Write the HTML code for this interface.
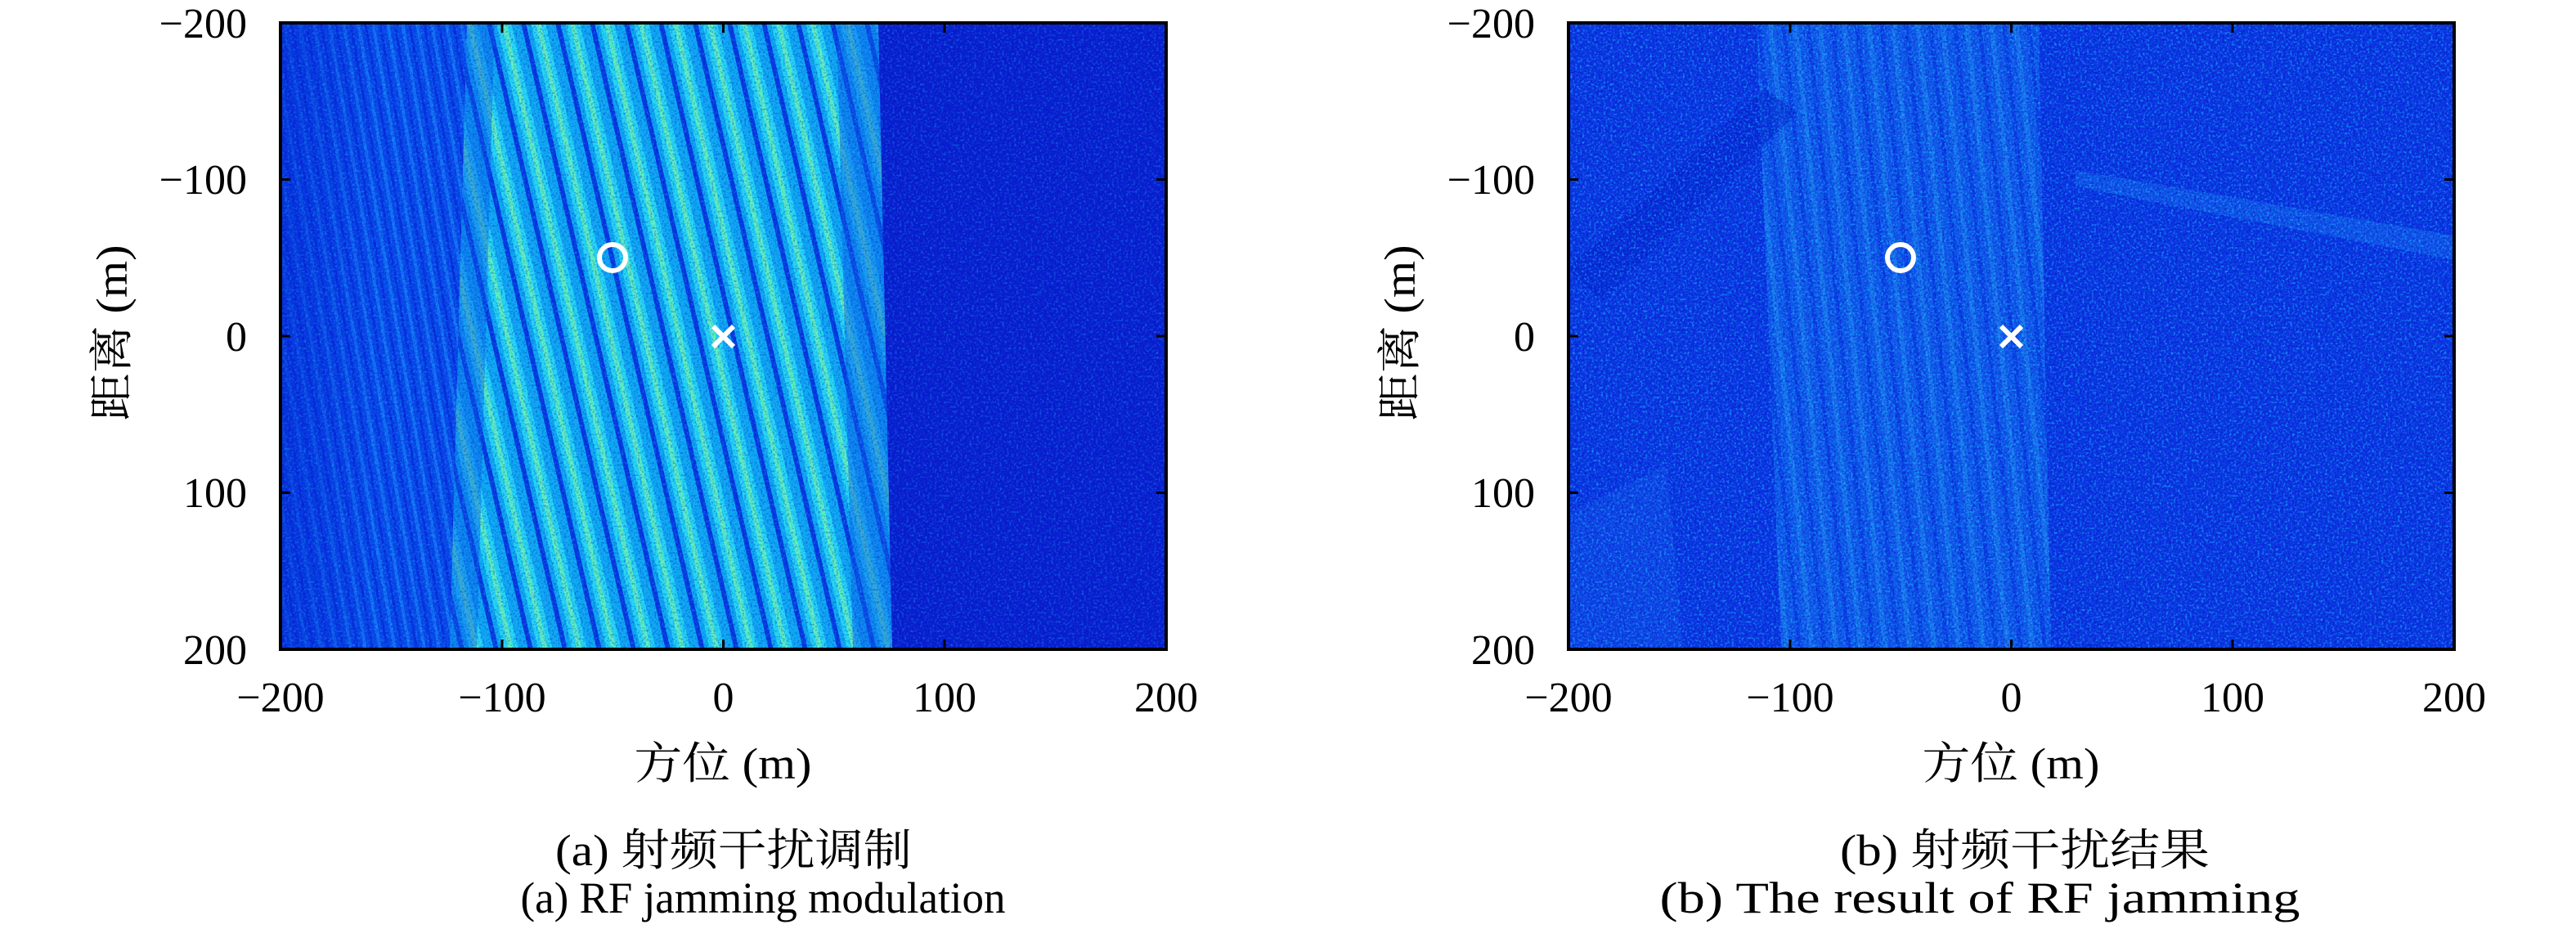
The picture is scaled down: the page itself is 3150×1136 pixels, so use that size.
<!DOCTYPE html>
<html><head><meta charset="utf-8"><style>
html,body{margin:0;padding:0;background:#fff;}
svg{display:block;}
text{font-family:"Liberation Serif","Noto Serif CJK SC",serif;fill:#000;}
</style></head><body>
<svg width="3150" height="1136" viewBox="0 0 3150 1136" xmlns="http://www.w3.org/2000/svg">
<defs>
  <pattern id="stripes" patternUnits="userSpaceOnUse" width="42" height="20" patternTransform="skewX(13)">
    <rect x="0" y="0" width="42" height="20" fill="#10a8f4"/>
    <rect x="0" y="0" width="6" height="20" fill="#0838e0"/>
    <rect x="12" y="0" width="18" height="20" fill="#28d8f4"/>
    <rect x="18" y="0" width="6" height="20" fill="#60f0c0"/>
  </pattern>
  <pattern id="faint" patternUnits="userSpaceOnUse" width="18" height="20" patternTransform="skewX(10)">
    <rect x="0" y="0" width="18" height="20" fill="#0a48ec"/>
    <rect x="3" y="0" width="4" height="20" fill="#1470f4"/>
    <rect x="12" y="0" width="3" height="20" fill="#0630dc"/>
  </pattern>
  <pattern id="rstr" patternUnits="userSpaceOnUse" width="30" height="20" patternTransform="skewX(6)">
    <rect x="0" y="0" width="30" height="20" fill="#1468f0"/>
    <rect x="4" y="0" width="6" height="20" fill="#2090f4"/>
    <rect x="20" y="0" width="5" height="20" fill="#0c44e8"/>
  </pattern>
  <linearGradient id="edgeL" x1="0" x2="1" y1="0" y2="0">
    <stop offset="0" stop-color="#0628d8" stop-opacity="0.7"/>
    <stop offset="1" stop-color="#0628d8" stop-opacity="0"/>
  </linearGradient>
  <filter id="noise" x="0" y="0" width="100%" height="100%" color-interpolation-filters="sRGB">
    <feTurbulence type="fractalNoise" baseFrequency="0.35" numOctaves="2" seed="4"/>
    <feColorMatrix type="matrix" values="0 0 0 0 0.1  0 0 0 0 0.8  0 0 0 0 1  3.2 0 0 0 -1.55"/>
  </filter>
  <filter id="noiseD" x="0" y="0" width="100%" height="100%" color-interpolation-filters="sRGB">
    <feTurbulence type="fractalNoise" baseFrequency="0.4" numOctaves="2" seed="9"/>
    <feColorMatrix type="matrix" values="0 0 0 0 0  0 0 0 0 0.05  0 0 0 0 0.7  3 0 0 0 -1.4"/>
  </filter>
  <clipPath id="cpL"><rect x="0" y="0" width="1083" height="766"/></clipPath>
</defs>

<!-- LEFT PLOT -->
<g transform="translate(343,28)" clip-path="url(#cpL)">
  <rect x="0" y="0" width="1083" height="766" fill="#0a1ed0"/>
  <polygon points="0,0 260,0 240,766 0,766" fill="url(#faint)"/>
  <polygon points="0,0 120,0 100,766 0,766" fill="url(#edgeL)"/>
  <polygon points="228,0 731,0 748,766 207,766" fill="url(#stripes)"/>
  <polygon points="680,0 731,0 748,766 700,766" fill="#0c60ec" opacity="0.5"/>
  <polygon points="228,0 262,0 240,766 207,766" fill="#0c58ec" opacity="0.45"/>
  <rect x="0" y="0" width="1083" height="766" filter="url(#noise)" opacity="0.35"/>
  <rect x="0" y="0" width="1083" height="766" filter="url(#noiseD)" opacity="0.4"/>
  <circle cx="406" cy="287" r="16" fill="none" stroke="#fff" stroke-width="6"/>
  <path d="M529,371 L554,396 M554,371 L529,396" stroke="#fff" stroke-width="6"/>
</g>
<rect x="343" y="28" width="1083" height="766" fill="none" stroke="#000" stroke-width="4"/>
<g stroke="#000" stroke-width="3">
  <line x1="614" y1="794" x2="614" y2="782"/><line x1="884.5" y1="794" x2="884.5" y2="782"/><line x1="1155" y1="794" x2="1155" y2="782"/>
  <line x1="614" y1="28" x2="614" y2="40"/><line x1="884.5" y1="28" x2="884.5" y2="40"/><line x1="1155" y1="28" x2="1155" y2="40"/>
  <line x1="343" y1="219.5" x2="355" y2="219.5"/><line x1="343" y1="411" x2="355" y2="411"/><line x1="343" y1="602.5" x2="355" y2="602.5"/>
  <line x1="1426" y1="219.5" x2="1414" y2="219.5"/><line x1="1426" y1="411" x2="1414" y2="411"/><line x1="1426" y1="602.5" x2="1414" y2="602.5"/>
</g>
<g font-size="52" text-anchor="end">
  <text x="302" y="46">−200</text><text x="302" y="237">−100</text><text x="302" y="429">0</text><text x="302" y="620">100</text><text x="302" y="812">200</text>
</g>
<g font-size="54" text-anchor="middle">
  <text x="343" y="870" font-size="52">−200</text><text x="614" y="870" font-size="52">−100</text><text x="884.5" y="870" font-size="52">0</text><text x="1155" y="870" font-size="52">100</text><text x="1426" y="870" font-size="52">200</text>
  <text x="884" y="952" textLength="217" lengthAdjust="spacingAndGlyphs">方位 (m)</text>
  <text x="897" y="1058" textLength="436" lengthAdjust="spacingAndGlyphs">(a) 射频干扰调制</text>
  <text x="933" y="1116" textLength="593" lengthAdjust="spacingAndGlyphs">(a) RF jamming modulation</text>
</g>
<text font-size="54" text-anchor="middle" transform="translate(155,407) rotate(-90)" textLength="215" lengthAdjust="spacingAndGlyphs">距离 (m)</text>

<!-- RIGHT PLOT -->
<g transform="translate(1918,28)" clip-path="url(#cpL)">
  <rect x="0" y="0" width="1083" height="766" fill="#0c34e4"/>
  <polygon points="230,0 575,0 590,766 260,766" fill="url(#rstr)" opacity="0.7"/>
  <polygon points="0,300 240,80 280,110 40,340" fill="#0826d4" opacity="0.6"/>
  <polygon points="0,766 0,600 120,540 140,766" fill="#1454ec" opacity="0.5"/>
  <polygon points="620,180 1083,260 1083,290 620,200" fill="#1870f0" opacity="0.5"/>
  <rect x="0" y="0" width="1083" height="766" filter="url(#noise)" opacity="0.6"/>
  <rect x="0" y="0" width="1083" height="766" filter="url(#noiseD)" opacity="0.55"/>
  <circle cx="406" cy="287" r="16" fill="none" stroke="#fff" stroke-width="6"/>
  <path d="M529,371 L554,396 M554,371 L529,396" stroke="#fff" stroke-width="6"/>
</g>
<rect x="1918" y="28" width="1083" height="766" fill="none" stroke="#000" stroke-width="4"/>
<g stroke="#000" stroke-width="3">
  <line x1="2189" y1="794" x2="2189" y2="782"/><line x1="2459.5" y1="794" x2="2459.5" y2="782"/><line x1="2730" y1="794" x2="2730" y2="782"/>
  <line x1="2189" y1="28" x2="2189" y2="40"/><line x1="2459.5" y1="28" x2="2459.5" y2="40"/><line x1="2730" y1="28" x2="2730" y2="40"/>
  <line x1="1918" y1="219.5" x2="1930" y2="219.5"/><line x1="1918" y1="411" x2="1930" y2="411"/><line x1="1918" y1="602.5" x2="1930" y2="602.5"/>
  <line x1="3001" y1="219.5" x2="2989" y2="219.5"/><line x1="3001" y1="411" x2="2989" y2="411"/><line x1="3001" y1="602.5" x2="2989" y2="602.5"/>
</g>
<g font-size="52" text-anchor="end">
  <text x="1877" y="46">−200</text><text x="1877" y="237">−100</text><text x="1877" y="429">0</text><text x="1877" y="620">100</text><text x="1877" y="812">200</text>
</g>
<g font-size="54" text-anchor="middle">
  <text x="1918" y="870" font-size="52">−200</text><text x="2189" y="870" font-size="52">−100</text><text x="2459.5" y="870" font-size="52">0</text><text x="2730" y="870" font-size="52">100</text><text x="3001" y="870" font-size="52">200</text>
  <text x="2459" y="952" textLength="217" lengthAdjust="spacingAndGlyphs">方位 (m)</text>
  <text x="2476" y="1058" textLength="452" lengthAdjust="spacingAndGlyphs">(b) 射频干扰结果</text>
  <text x="2421" y="1116" textLength="783" lengthAdjust="spacingAndGlyphs">(b) The result of RF jamming</text>
</g>
<text font-size="54" text-anchor="middle" transform="translate(1730,407) rotate(-90)" textLength="215" lengthAdjust="spacingAndGlyphs">距离 (m)</text>
</svg>
</body></html>
